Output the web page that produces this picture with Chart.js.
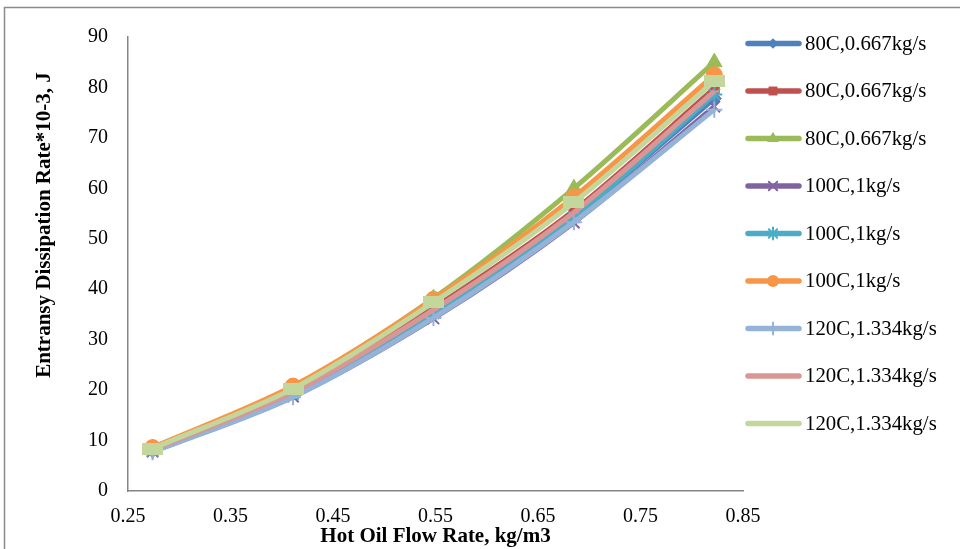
<!DOCTYPE html>
<html><head><meta charset="utf-8">
<script src="https://cdn.jsdelivr.net/npm/chart.js@4.4.1/dist/chart.umd.min.js"></script>
<style>html,body{margin:0;padding:0;background:#fff;}#wrap{width:960px;height:549px;}</style>
</head><body><div id="wrap"><canvas id="c" width="960" height="549"></canvas></div>
<script>
const xValues = [0.274, 0.411, 0.548, 0.685, 0.822];
const xTicks = [0.25, 0.35, 0.45, 0.55, 0.65, 0.75, 0.85];
const yTicks = [0, 10, 20, 30, 40, 50, 60, 70, 80, 90];
const seriesLabels = ['80C,0.667kg/s','80C,0.667kg/s','80C,0.667kg/s','100C,1kg/s','100C,1kg/s','100C,1kg/s','120C,1.334kg/s','120C,1.334kg/s','120C,1.334kg/s'];
const s80a = [8.0, 19.3, 35.3, 54.3, 77.8];
const s80b = [8.3, 19.8, 36.3, 55.6, 79.8];
const s80c = [8.5, 20.6, 38.2, 60.0, 85.0];
const s100a = [7.8, 18.7, 34.2, 53.2, 76.2];
const s100b = [8.0, 19.2, 35.2, 54.3, 78.6];
const s100c = [8.6, 20.8, 38.0, 58.3, 82.5];
const s120a = [7.7, 18.6, 34.3, 53.3, 75.6];
const s120b = [8.2, 19.6, 35.9, 55.2, 79.2];
const s120c = [8.4, 20.3, 37.4, 57.2, 81.2];
const xTitle = 'Hot Oil Flow Rate, kg/m3';
const yTitle = 'Entransy Dissipation Rate*10-3, J';

const seriesValues = [s80a, s80b, s80c, s100a, s100b, s100c, s120a, s120b, s120c];
const colors = ['#4F81BD','#C0504D','#9BBB59','#8064A2','#4BACC6','#F79646','#95B3D7','#D99694','#C3D69B'];

function rectImg(w,h,col){const c=document.createElement('canvas');c.width=w;c.height=h;const x=c.getContext('2d');x.fillStyle=col;x.fillRect(0,0,w,h);return c;}
const styles = [
  {ps:'rectRot', r:7, bw:1},
  {ps:'rect', r:7, bw:1},
  {ps:'triangle', r:9, bw:1},
  {ps:'crossRot', r:8, bw:2},
  {ps:'star', r:8, bw:2},
  {ps:'circle', r:8, bw:1},
  {ps:'cross', r:8, bw:2},
  {ps:'dash', r:5, bw:2},
  {ps:rectImg(21,12,'#C3D69B'), r:8, bw:1}
];

const datasets = seriesValues.map((vals,i)=>({
  label: seriesLabels[i],
  data: vals.map((v,j)=>({x:xValues[j], y:v})),
  borderColor: colors[i],
  backgroundColor: colors[i],
  pointBackgroundColor: colors[i],
  pointBorderColor: colors[i],
  borderWidth: 5,
  pointStyle: styles[i].ps,
  pointRadius: styles[i].r,
  pointBorderWidth: styles[i].bw,
  tension: 0.3,
  order: 8 - i
}));

function drawMarker(ctx, st, col, x, y, scale){
  const r = st.r*scale;
  ctx.save();
  ctx.fillStyle=col; ctx.strokeStyle=col; ctx.lineWidth=st.bw;
  ctx.beginPath();
  if (st.ps==='rectRot'){ctx.moveTo(x,y-r);ctx.lineTo(x+r,y);ctx.lineTo(x,y+r);ctx.lineTo(x-r,y);ctx.closePath();ctx.fill();}
  else if (st.ps==='rect'){const a=r*0.85;ctx.rect(x-a,y-a,2*a,2*a);ctx.fill();}
  else if (st.ps==='triangle'){ctx.moveTo(x,y-r);ctx.lineTo(x+r*0.87,y+r*0.5);ctx.lineTo(x-r*0.87,y+r*0.5);ctx.closePath();ctx.fill();}
  else if (st.ps==='crossRot'){const a=r*0.7;ctx.moveTo(x-a,y-a);ctx.lineTo(x+a,y+a);ctx.moveTo(x+a,y-a);ctx.lineTo(x-a,y+a);ctx.stroke();}
  else if (st.ps==='star'){const a=r*0.7;ctx.moveTo(x-a,y-a);ctx.lineTo(x+a,y+a);ctx.moveTo(x+a,y-a);ctx.lineTo(x-a,y+a);ctx.moveTo(x,y-r);ctx.lineTo(x,y+r);ctx.stroke();}
  else if (st.ps==='circle'){ctx.arc(x,y,r,0,Math.PI*2);ctx.fill();}
  else if (st.ps==='cross'){ctx.moveTo(x,y-r);ctx.lineTo(x,y+r);ctx.stroke();}
  ctx.restore();
}

const decor = {
  id:'decor',
  beforeDraw(chart){
    const ctx=chart.ctx; ctx.save();
    ctx.fillStyle='#fff'; ctx.fillRect(0,0,960,549);
    ctx.strokeStyle='#8a8a8a'; ctx.lineWidth=1.5;
    ctx.beginPath(); ctx.moveTo(4.5,549); ctx.lineTo(4.5,7.5); ctx.lineTo(960,7.5); ctx.stroke();
    ctx.restore();
  },
  afterDraw(chart){
    const ctx=chart.ctx; ctx.save();
    // legend
    ctx.font='20.8px "Liberation Serif"'; ctx.textBaseline='middle'; ctx.textAlign='left'; ctx.fillStyle='#000';
    seriesLabels.forEach((lab,i)=>{
      const y = 43.5 + i*47.5;
      ctx.strokeStyle=colors[i]; ctx.lineWidth=5.5; ctx.lineCap='round';
      ctx.beginPath(); ctx.moveTo(748,y); ctx.lineTo(799,y); ctx.stroke();
      if (i<7) drawMarker(ctx, styles[i], colors[i], 773, y, 0.75);
      ctx.fillStyle='#000';
      ctx.fillText(lab, 805, y+1);
    });
    // titles
    ctx.font='bold 21px "Liberation Serif"'; ctx.textAlign='center'; ctx.textBaseline='middle';
    const a = chart.chartArea;
    ctx.fillText(xTitle, (a.left+a.right)/2, 537);
    ctx.translate(45, 225); ctx.rotate(-Math.PI/2);
    ctx.fillText(yTitle, 0, 0);
    ctx.restore();
  }
};

new Chart(document.getElementById('c'), {
  type:'line',
  data:{datasets},
  plugins:[decor],
  options:{
    responsive:false, animation:false, devicePixelRatio:1,
    layout:{padding:{top:37, right:217, left:0, bottom:0}},
    plugins:{legend:{display:false}, tooltip:{enabled:false}},
    scales:{
      x:{type:'linear', min:0.25, max:0.85,
        afterBuildTicks:s=>{s.ticks=xTicks.map(v=>({value:v}));},
        afterFit:s=>{s.height=58;},
        grid:{display:false, drawTicks:false},
        border:{display:true, color:'#868686', width:1.5},
        ticks:{padding:14, color:'#000', font:{family:'Liberation Serif', size:20}, callback:v=>v.toFixed(2)}
      },
      y:{min:0, max:90,
        afterBuildTicks:s=>{s.ticks=yTicks.map(v=>({value:v}));},
        afterFit:s=>{s.width=128;},
        grid:{display:false, drawTicks:false},
        border:{display:true, color:'#868686', width:1.5},
        ticks:{padding:20, color:'#000', font:{family:'Liberation Serif', size:20}, callback:v=>String(v)}
      }
    }
  }
});
</script></body></html>
